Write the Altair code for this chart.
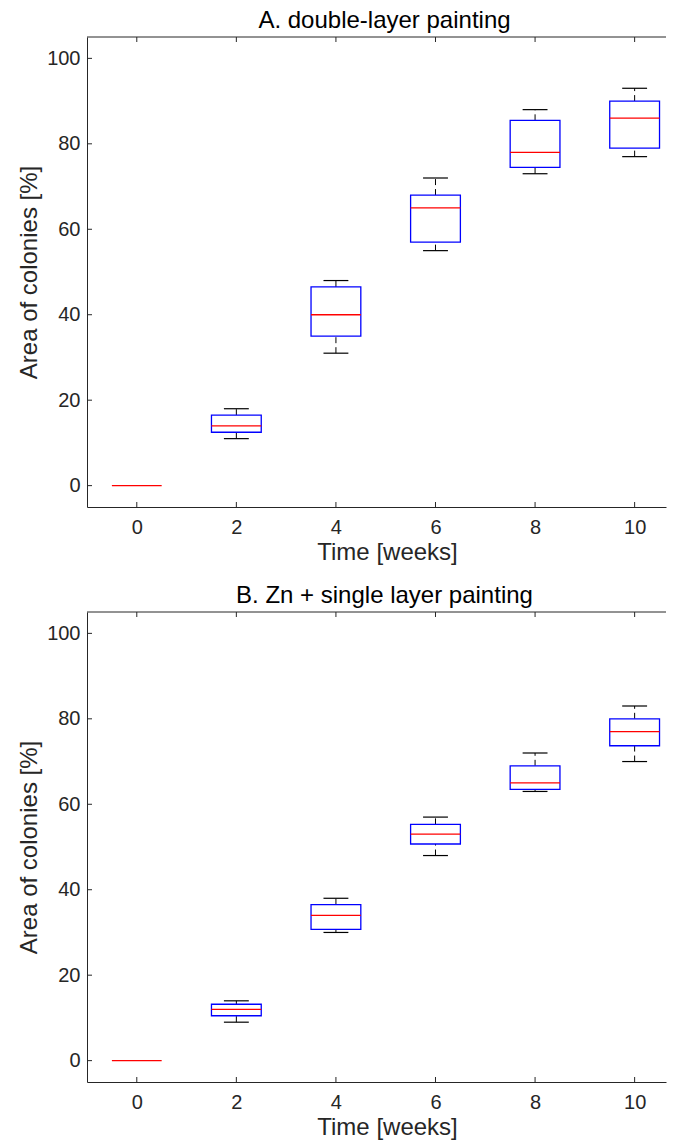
import altair as alt
import pandas as pd

# ---- data ----
weeks = [0, 2, 4, 6, 8, 10]

a_lo = [0, 11.0, 31.0, 55.0, 73.0, 77.0]
a_q1 = [0, 12.5, 35.0, 57.0, 74.5, 79.0]
a_med = [0, 14.0, 40.0, 65.0, 78.0, 86.0]
a_q3 = [0, 16.5, 46.5, 68.0, 85.5, 90.0]
a_hi = [0, 18.0, 48.0, 72.0, 88.0, 93.0]

b_lo = [0, 9.0, 30.0, 48.0, 63.0, 70.0]
b_q1 = [0, 10.5, 30.7, 50.7, 63.5, 73.7]
b_med = [0, 12.0, 34.0, 53.0, 65.0, 77.0]
b_q3 = [0, 13.2, 36.5, 55.3, 69.0, 80.0]
b_hi = [0, 14.0, 38.0, 57.0, 72.0, 83.0]

x_ticks = [0, 2, 4, 6, 8, 10]
y_ticks = [0, 20, 40, 60, 80, 100]

title_a = "A. double-layer painting"
title_b = "B. Zn + single layer painting"
x_title = "Time [weeks]"
y_title = "Area of colonies [%]"

# ---- styling ----
FONT = "Liberation Sans"
AXC = "#262626"
W, H = 579, 470
XDOM = [-1, 10.63]
YDOM = [-5, 105]
TICK = 5
TFS = 24


def panel(title, lo, q1, med, q3, hi):
    df = pd.DataFrame(dict(week=weeks, lo=lo, q1=q1, med=med, q3=q3, hi=hi))
    xs = alt.Scale(domain=XDOM, nice=False, zero=False)
    ys = alt.Scale(domain=YDOM, nice=False, zero=False)

    x_axis = alt.Axis(
        values=x_ticks, ticks=False, grid=False, labelFontSize=20, labelFont=FONT,
        labelColor=AXC, labelPadding=10, domainColor=AXC, domainWidth=1,
        title=x_title, titleFont=FONT, titleFontSize=TFS, titleFontWeight="normal",
        titleColor=AXC, titlePadding=3, titleX=300, labelFlush=False,
    )
    y_axis = alt.Axis(
        values=y_ticks, ticks=False, grid=False, labelFontSize=20, labelFont=FONT,
        labelColor=AXC, labelPadding=7, domainColor=AXC, domainWidth=1,
        title=y_title, titleFont=FONT, titleFontSize=TFS, titleFontWeight="normal",
        titleColor=AXC, titlePadding=5, labelFlush=False,
    )

    def X(f):
        return alt.X(f, scale=xs, axis=x_axis, title=x_title)

    def Y(f):
        return alt.Y(f, scale=ys, axis=y_axis, title=y_title)

    base = alt.Chart(df).transform_calculate(
        xl="datum.week - 0.5", xr="datum.week + 0.5",
        cl="datum.week - 0.25", cr="datum.week + 0.25",
    )
    boxes = base.transform_filter("datum.week > 0")

    whisk_lo = boxes.mark_rule(color="black", strokeDash=[6, 4], strokeWidth=1).encode(
        x=X("week:Q"), y=Y("lo:Q"), y2="q1:Q")
    whisk_hi = boxes.mark_rule(color="black", strokeDash=[6, 4], strokeWidth=1).encode(
        x=X("week:Q"), y=Y("q3:Q"), y2="hi:Q")
    cap_lo = boxes.mark_rule(color="black", strokeWidth=1.2).encode(
        x=X("cl:Q"), x2="cr:Q", y=Y("lo:Q"))
    cap_hi = boxes.mark_rule(color="black", strokeWidth=1.2).encode(
        x=X("cl:Q"), x2="cr:Q", y=Y("hi:Q"))
    box = boxes.mark_rect(fill="white", stroke="#0000ff", strokeWidth=1.3).encode(
        x=X("xl:Q"), x2="xr:Q", y=Y("q1:Q"), y2="q3:Q")
    med_layer = base.mark_rule(color="#ff0000", strokeWidth=1.3).encode(
        x=X("xl:Q"), x2="xr:Q", y=Y("med:Q"))

    xt = alt.Chart(pd.DataFrame({"t": x_ticks}))
    yt = alt.Chart(pd.DataFrame({"t": y_ticks}))
    xtick_bot = xt.mark_rule(color=AXC, strokeWidth=1).encode(
        x=X("t:Q"), y=alt.value(H), y2=alt.value(H - TICK))
    xtick_top = xt.mark_rule(color=AXC, strokeWidth=1).encode(
        x=X("t:Q"), y=alt.value(0), y2=alt.value(TICK))
    ytick = yt.mark_rule(color=AXC, strokeWidth=1).encode(
        y=Y("t:Q"), x=alt.value(0), x2=alt.value(TICK))
    top_border = alt.Chart(pd.DataFrame({"k": [0]})).mark_rule(color=AXC, strokeWidth=1).encode(
        x=alt.value(0), x2=alt.value(W), y=alt.value(0))

    return alt.layer(
        whisk_lo, whisk_hi, cap_lo, cap_hi, box, med_layer,
        xtick_bot, xtick_top, ytick, top_border,
    ).properties(
        width=W, height=H,
        title=alt.TitleParams(title, font=FONT, fontSize=TFS, fontWeight="normal",
                              color="black", offset=4, dx=8, anchor="middle"),
    )


chart = alt.vconcat(
    panel(title_a, a_lo, a_q1, a_med, a_q3, a_hi),
    panel(title_b, b_lo, b_q1, b_med, b_q3, b_hi),
    spacing=19,
).properties(
    padding={"left": 9, "top": 0, "right": 0, "bottom": 2},
).configure_view(stroke=None)

chart.save("out.html", embed_options={"renderer": "svg", "actions": False})
